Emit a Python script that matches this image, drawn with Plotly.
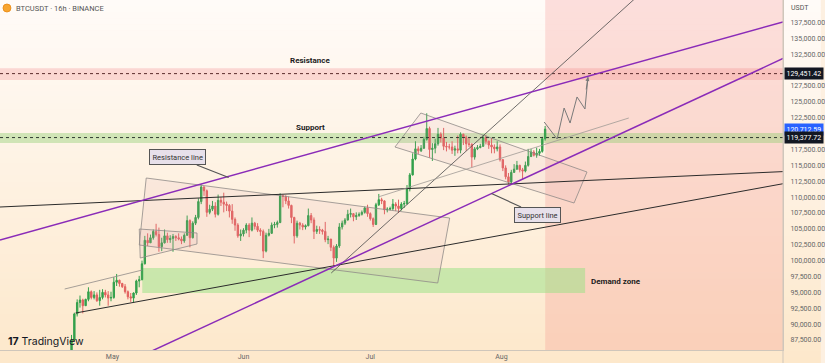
import plotly.graph_objects as go
import pandas as pd

# ---------------- data (prices in thousands USDT, 16h candles) ----------------
first_open_k = 85.4
close_k = [
    87.5, 91.6, 93.4, 93.8, 92.9, 93.9, 95.1, 94.2, 94.6, 93.7, 94.2, 95.0,
    94.6, 94.1, 94.2, 96.6, 96.9, 96.4, 95.9, 95.1, 94.3, 94.1, 94.9, 96.8,
    97.0, 99.5, 103.2, 102.8, 103.6, 104.6, 104.1, 102.2, 102.8, 103.9, 103.3, 103.5,
    103.8, 103.6, 103.4, 103.1, 104.0, 106.3, 103.6, 105.9, 106.8, 109.3, 111.6, 111.0,
    107.6, 108.1, 108.6, 107.3, 109.5, 109.2, 108.9, 108.7, 107.8, 106.5, 105.6, 103.9,
    104.2, 104.8, 105.6, 104.8, 105.9, 105.4, 104.8, 104.6, 101.5, 104.0, 104.3, 105.6,
    105.7, 106.0, 110.2, 110.1, 109.4, 108.7, 106.8, 103.9, 105.9, 105.6, 105.3, 105.5,
    107.1, 106.4, 104.6, 104.9, 104.8, 104.6, 103.3, 103.4, 102.1, 100.4, 102.3, 105.3,
    105.9, 106.4, 107.3, 107.4, 106.9, 107.1, 107.3, 107.6, 108.3, 107.4, 106.6, 105.7,
    108.8, 109.6, 109.4, 108.0, 108.1, 108.2, 108.9, 108.6, 108.2, 108.9, 109.0, 111.3,
    113.5, 116.0, 117.6, 117.3, 117.7, 119.1, 120.8, 117.5, 117.7, 118.4, 119.9, 119.3,
    118.0, 117.9, 117.9, 117.4, 117.6, 117.4, 119.9, 119.4, 118.4, 118.3, 116.3, 117.6,
    117.8, 118.0, 119.4, 118.8, 118.2, 117.9, 117.6, 117.9, 115.9, 114.6, 113.2, 112.4,
    113.9, 114.4, 115.0, 114.3, 114.1, 115.0, 116.4, 117.1, 116.6, 116.9, 117.2, 119.2,
    120.71259,
]
high_k = [
    88.3, 91.8, 93.9, 94.5, 94.0, 94.0, 95.8, 95.3, 95.2, 95.0, 95.4, 95.5,
    95.4, 95.2, 95.1, 97.4, 97.9, 97.0, 96.5, 96.3, 95.3, 94.9, 95.0, 97.0,
    97.6, 100.0, 103.9, 104.3, 104.1, 104.9, 105.8, 105.2, 103.6, 104.9, 104.4, 104.0,
    104.2, 104.0, 104.3, 103.8, 104.3, 107.1, 106.5, 106.2, 107.2, 109.8, 112.0, 111.7,
    111.2, 108.8, 109.4, 109.2, 110.4, 110.0, 110.7, 109.3, 108.9, 108.9, 106.8, 105.9,
    104.9, 105.1, 105.9, 105.9, 106.8, 106.1, 105.9, 105.1, 104.9, 104.4, 105.0, 106.0,
    106.1, 106.3, 110.6, 110.4, 110.3, 110.1, 108.8, 106.9, 106.3, 106.1, 105.9, 105.7,
    108.2, 107.5, 106.8, 105.5, 105.4, 105.0, 106.1, 103.9, 103.4, 102.4, 102.6, 105.9,
    106.3, 106.7, 108.0, 108.2, 107.5, 107.6, 107.6, 107.9, 108.5, 108.8, 107.6, 106.8,
    109.1, 110.5, 109.9, 109.5, 108.4, 108.5, 109.7, 109.2, 109.6, 109.2, 109.4, 111.9,
    113.8, 116.9, 118.8, 118.0, 118.2, 119.5, 123.2, 121.1, 118.5, 119.2, 120.9, 120.2,
    120.9, 118.7, 118.4, 118.8, 118.1, 119.7, 120.2, 120.0, 119.7, 119.5, 118.5, 117.9,
    118.2, 118.4, 119.8, 119.8, 118.9, 119.3, 118.3, 118.8, 118.3, 116.0, 115.0, 113.8,
    114.3, 115.2, 115.7, 115.1, 114.6, 115.6, 117.6, 117.6, 117.4, 117.8, 117.6, 119.5,
    121.2,
]
low_k = [
    85.2, 87.3, 91.2, 92.6, 91.7, 92.9, 93.6, 93.9, 93.9, 93.5, 92.9, 93.9,
    94.2, 92.9, 93.6, 94.0, 96.0, 95.9, 95.7, 94.8, 93.9, 93.5, 93.4, 94.6,
    95.8, 96.9, 99.4, 102.3, 102.8, 103.3, 103.8, 101.4, 101.5, 102.7, 102.8, 102.8,
    101.4, 103.1, 103.2, 102.6, 102.8, 103.9, 102.1, 103.5, 105.6, 106.5, 108.9, 110.2,
    106.9, 107.3, 107.8, 106.8, 107.1, 108.6, 107.6, 107.8, 106.8, 105.8, 104.7, 103.6,
    103.1, 103.8, 104.3, 103.7, 104.6, 104.9, 104.5, 103.9, 100.4, 101.3, 103.8, 104.2,
    105.1, 105.2, 105.9, 108.4, 108.9, 108.2, 105.9, 102.7, 103.6, 104.9, 104.8, 104.9,
    105.4, 105.9, 103.4, 104.2, 104.2, 104.1, 102.9, 102.6, 101.5, 99.0, 99.8, 102.0,
    104.9, 105.6, 106.3, 106.8, 106.2, 106.4, 106.9, 107.1, 107.4, 106.9, 106.3, 105.3,
    105.6, 108.6, 108.9, 107.3, 107.6, 107.9, 107.9, 107.8, 107.5, 107.9, 108.3, 108.8,
    110.9, 113.4, 115.8, 116.8, 117.1, 117.6, 118.9, 116.2, 115.7, 116.9, 118.1, 118.6,
    117.4, 117.2, 117.5, 116.8, 116.5, 116.9, 116.9, 118.2, 117.3, 117.9, 114.7, 115.9,
    117.4, 117.7, 117.9, 118.3, 117.6, 116.9, 116.9, 117.2, 115.6, 114.1, 112.8, 112.0,
    112.2, 113.8, 114.3, 113.9, 112.7, 113.9, 114.8, 116.3, 116.4, 116.2, 116.5, 117.0,
    118.9,
]
first_candle_time = "2025-04-21 08:00"

month_ticks = ["2025-05-01", "2025-06-01", "2025-07-01", "2025-08-01"]
month_labels = ["May", "Jun", "Jul", "Aug"]
price_ticks = [87500, 90000, 92500, 95000, 97500, 100000, 102500, 105000, 107500,
               110000, 112500, 115000, 117500, 122500, 125000, 127500, 132500,
               135000, 137500]

resistance_level = 129451.42
support_level = 119377.72
last_price = 120712.59
resistance_zone = (128450, 130300)
support_zone = (118530, 120100)
demand_zone_time = ("2025-05-08 01:30", "2025-08-20 19:00")
demand_zone_price = (94900, 98840)
future_start = "2025-08-11 08:30"

# drawings (time, price)
upper_purple = [("2025-04-04 10:00", 103250), ("2025-10-06 14:10", 137580)]
lower_purple = [("2025-05-02 15:30", 83400), ("2025-10-06 14:10", 131830)]
long_dark = [("2025-04-04 10:00", 108445), ("2025-10-06 14:10", 114020)]
lower_dark = [("2025-04-22 07:00", 91750), ("2025-10-06 14:10", 112110)]
steep_line = [("2025-06-21 18:00", 98050), ("2025-09-09 01:30", 145770)]
thin_gray = [("2025-07-02 19:40", 110020), ("2025-08-31 02:50", 122460)]
early_channel = [("2025-04-19 17:00", 95530), ("2025-05-08 01:30", 98520)]

big_box_t = ["2025-05-09 00:00", "2025-07-19 18:15", "2025-07-16 22:30", "2025-05-07 08:30"]
big_box_p = [113012, 106713, 96476, 102461]
july_box_t = ["2025-07-12 22:30", "2025-08-21 05:45", "2025-08-18 04:15", "2025-07-06 19:45"]
july_box_p = [123248, 113957, 109075, 117894]
may_box_t = ["2025-05-07 08:30", "2025-05-21 00:00", "2025-05-21 00:00", "2025-05-07 14:00"]
may_box_p = [104980, 104350, 102618, 100413]

proj_t = ["2025-08-11 02:50", "2025-08-14 04:15", "2025-08-15 19:45", "2025-08-17 05:45",
          "2025-08-18 21:10", "2025-08-20 18:15", "2025-08-21 11:15"]
proj_p = [121830, 119150, 124035, 121670, 125770, 123880, 128920]

# ---------------- build ----------------
closes = [v * 1000 for v in close_k]
highs = [v * 1000 for v in high_k]
lows = [v * 1000 for v in low_k]
opens = [first_open_k * 1000] + closes[:-1]
times = pd.date_range(first_candle_time, periods=len(closes), freq="16h")

W, H = 825, 363
ML, MR, MT, MB = 0, 38, 0, 13
PW, PH = W - ML - MR, H - MT - MB
X_RANGE = ["2025-04-04 10:00", "2025-10-06 14:10"]
Y_RANGE = [85925, 141043]

GREEN = "#34A04C"
RED = "#E2615F"
PURPLE = "#8A2BB8"
FONT = "Roboto"

def py(px):  # pixel row -> paper y
    return (PH - px) / PH

def pxx(px):
    return px / PW

fig = go.Figure()

# boxes (parallel channels)
for bt, bp in [(big_box_t, big_box_p), (july_box_t, july_box_p), (may_box_t, may_box_p)]:
    fig.add_trace(go.Scatter(
        x=bt + [bt[0]], y=bp + [bp[0]], mode="lines", fill="toself",
        fillcolor="rgba(215,150,165,0.10)", line=dict(color="#8f8a88", width=0.8),
        hoverinfo="skip", showlegend=False))

fig.add_trace(go.Candlestick(
    x=times, open=opens, high=highs, low=lows, close=closes,
    increasing=dict(line=dict(color=GREEN, width=1), fillcolor=GREEN),
    decreasing=dict(line=dict(color=RED, width=1), fillcolor=RED),
    whiskerwidth=0, hoverinfo="skip", showlegend=False))

fig.add_trace(go.Scatter(
    x=proj_t, y=proj_p, mode="lines", line=dict(color="#7a7a7a", width=1),
    hoverinfo="skip", showlegend=False))

shapes = []
# background gradient
n = 60
top_c = (255, 251, 248)
bot_c = (253, 232, 203)
for k in range(n):
    t = k / (n - 1)
    c = tuple(round(top_c[i] + (bot_c[i] - top_c[i]) * t) for i in range(3))
    y0 = H * k / n
    y1 = H * (k + 1) / n + 0.6
    shapes.append(dict(type="rect", xref="paper", yref="paper", x0=0, x1=W / PW,
                       y0=py(y1), y1=py(y0), line=dict(width=0),
                       fillcolor="rgb(%d,%d,%d)" % c, layer="below"))

# future region
shapes.append(dict(type="rect", xref="x", yref="paper", x0=future_start, x1="2026-03-01",
                   y0=0, y1=1, line=dict(width=0), fillcolor="rgba(240,110,110,0.20)",
                   layer="below"))
# zones
shapes.append(dict(type="rect", xref="paper", yref="y", x0=0, x1=1,
                   y0=resistance_zone[0], y1=resistance_zone[1], line=dict(width=0),
                   fillcolor="rgba(240,120,120,0.25)", layer="below"))
shapes.append(dict(type="rect", xref="paper", yref="y", x0=0, x1=1,
                   y0=support_zone[0], y1=support_zone[1], line=dict(width=0),
                   fillcolor="rgba(140,205,110,0.40)", layer="below"))
shapes.append(dict(type="rect", xref="x", yref="y", x0=demand_zone_time[0], x1=demand_zone_time[1],
                   y0=demand_zone_price[0], y1=demand_zone_price[1], line=dict(width=0),
                   fillcolor="rgba(150,225,130,0.50)", layer="below"))
# dashed levels
shapes.append(dict(type="line", xref="paper", yref="y", x0=0, x1=1,
                   y0=resistance_level, y1=resistance_level,
                   line=dict(color="#5a2c2c", width=1, dash="3px,3px")))
shapes.append(dict(type="line", xref="paper", yref="y", x0=0, x1=1,
                   y0=support_level, y1=support_level,
                   line=dict(color="#2e382e", width=1, dash="3px,3px")))

def seg(pts, color, width, dash=None):
    d = dict(color=color, width=width)
    if dash:
        d["dash"] = dash
    return dict(type="line", xref="x", yref="y", x0=pts[0][0], y0=pts[0][1],
                x1=pts[1][0], y1=pts[1][1], line=d, layer="above")

shapes.append(seg(long_dark, "#2b2b2b", 1))
shapes.append(seg(lower_dark, "#2b2b2b", 1))
shapes.append(seg(steep_line, "#4a4a4a", 0.8))
shapes.append(seg(thin_gray, "#a09a96", 0.8))
shapes.append(seg(early_channel, "#8f8a88", 0.8))
shapes.append(seg(upper_purple, PURPLE, 1.5))
shapes.append(seg(lower_purple, PURPLE, 1.5))

# axis separators & bitcoin icon
shapes.append(dict(type="line", xref="paper", yref="paper", x0=1, x1=1, y0=py(H), y1=1,
                   line=dict(color="#cfc6bb", width=1)))
shapes.append(dict(type="circle", xref="paper", yref="paper", x0=pxx(3), x1=pxx(11),
                   y0=py(12), y1=py(4), line=dict(color="#E8870F", width=0.8),
                   fillcolor="#F7A530"))

annotations = [
    dict(xref="paper", yref="paper", x=pxx(14), y=py(8), xanchor="left", yanchor="middle",
         text="BTCUSDT · 16h · BINANCE", showarrow=False,
         font=dict(family=FONT, size=7.5, color="#555555")),
    dict(xref="paper", yref="paper", x=1, y=py(8), xanchor="left", yanchor="middle", xshift=6,
         text="USDT", showarrow=False, font=dict(family=FONT, size=7, color="#555555")),
    dict(xref="paper", yref="paper", x=pxx(6), y=py(341), xanchor="left", yanchor="middle",
         text="<b>17</b> TradingView", showarrow=False,
         font=dict(family="Inter", size=10.5, color="#131722")),
    dict(x="2025-06-16 19:40", y=131440, text="<b>Resistance</b>", showarrow=False,
         font=dict(family=FONT, size=8, color="#1c1c1c")),
    dict(x="2025-06-16 19:40", y=121040, text="<b>Support</b>", showarrow=False,
         font=dict(family=FONT, size=8, color="#1c1c1c")),
    dict(x="2025-08-28 01:30", y=96790, text="<b>Demand zone</b>", showarrow=False,
         font=dict(family=FONT, size=8, color="#1c1c1c")),
    dict(x="2025-05-28 12:00", y=113100, ax=-51, ay=-20, text="Resistance line",
         showarrow=True, arrowhead=0, arrowwidth=1.2, arrowcolor="#555555",
         bgcolor="#E7E0EA", bordercolor="#555555", borderwidth=1, borderpad=2.5,
         font=dict(family=FONT, size=7.5, color="#333333")),
    dict(x="2025-07-29 15:30", y=110570, ax=46, ay=21, text="Support line",
         showarrow=True, arrowhead=0, arrowwidth=1.2, arrowcolor="#555555",
         bgcolor="#E7E0EA", bordercolor="#555555", borderwidth=1, borderpad=2.5,
         font=dict(family=FONT, size=7.5, color="#333333")),
    dict(x=proj_t[-1], y=proj_p[-1], ax=-2, ay=14, text="", showarrow=True,
         arrowhead=2, arrowsize=0.8, arrowwidth=1, arrowcolor="#7a7a7a"),
]
for lvl, bg in [(resistance_level, "#131722"), (last_price, "#2962FF"), (support_level, "#131722")]:
    annotations.append(dict(xref="paper", yref="y", x=1, y=lvl, xanchor="left", yanchor="middle",
                            xshift=1, text="{:,.2f}".format(lvl), showarrow=False,
                            bgcolor=bg, borderpad=1.5,
                            font=dict(family=FONT, size=7, color="#ffffff")))

fig.update_layout(
    width=W, height=H, margin=dict(l=ML, r=MR, t=MT, b=MB, pad=0),
    paper_bgcolor="rgb(253,240,225)", plot_bgcolor="rgba(0,0,0,0)",
    showlegend=False, shapes=shapes, annotations=annotations,
    font=dict(family=FONT),
    xaxis=dict(type="date", range=X_RANGE, showgrid=False, zeroline=False,
               tickvals=month_ticks, ticktext=month_labels, ticks="",
               tickfont=dict(family=FONT, size=7, color="#666666"),
               showline=True, linecolor="#cfc6bb", linewidth=1,
               rangeslider=dict(visible=False), fixedrange=True),
    yaxis=dict(range=Y_RANGE, side="right", showgrid=False, zeroline=False,
               tickvals=price_ticks, tickformat=",.2f", ticks="",
               tickfont=dict(family=FONT, size=7, color="#666666"),
               ticklabelstandoff=5, showline=True, linecolor="#cfc6bb", linewidth=1,
               fixedrange=True),
)

fig.write_html("out.html", config={"displayModeBar": False},
               post_script="document.body.style.margin='0px';document.body.style.overflow='hidden';")
